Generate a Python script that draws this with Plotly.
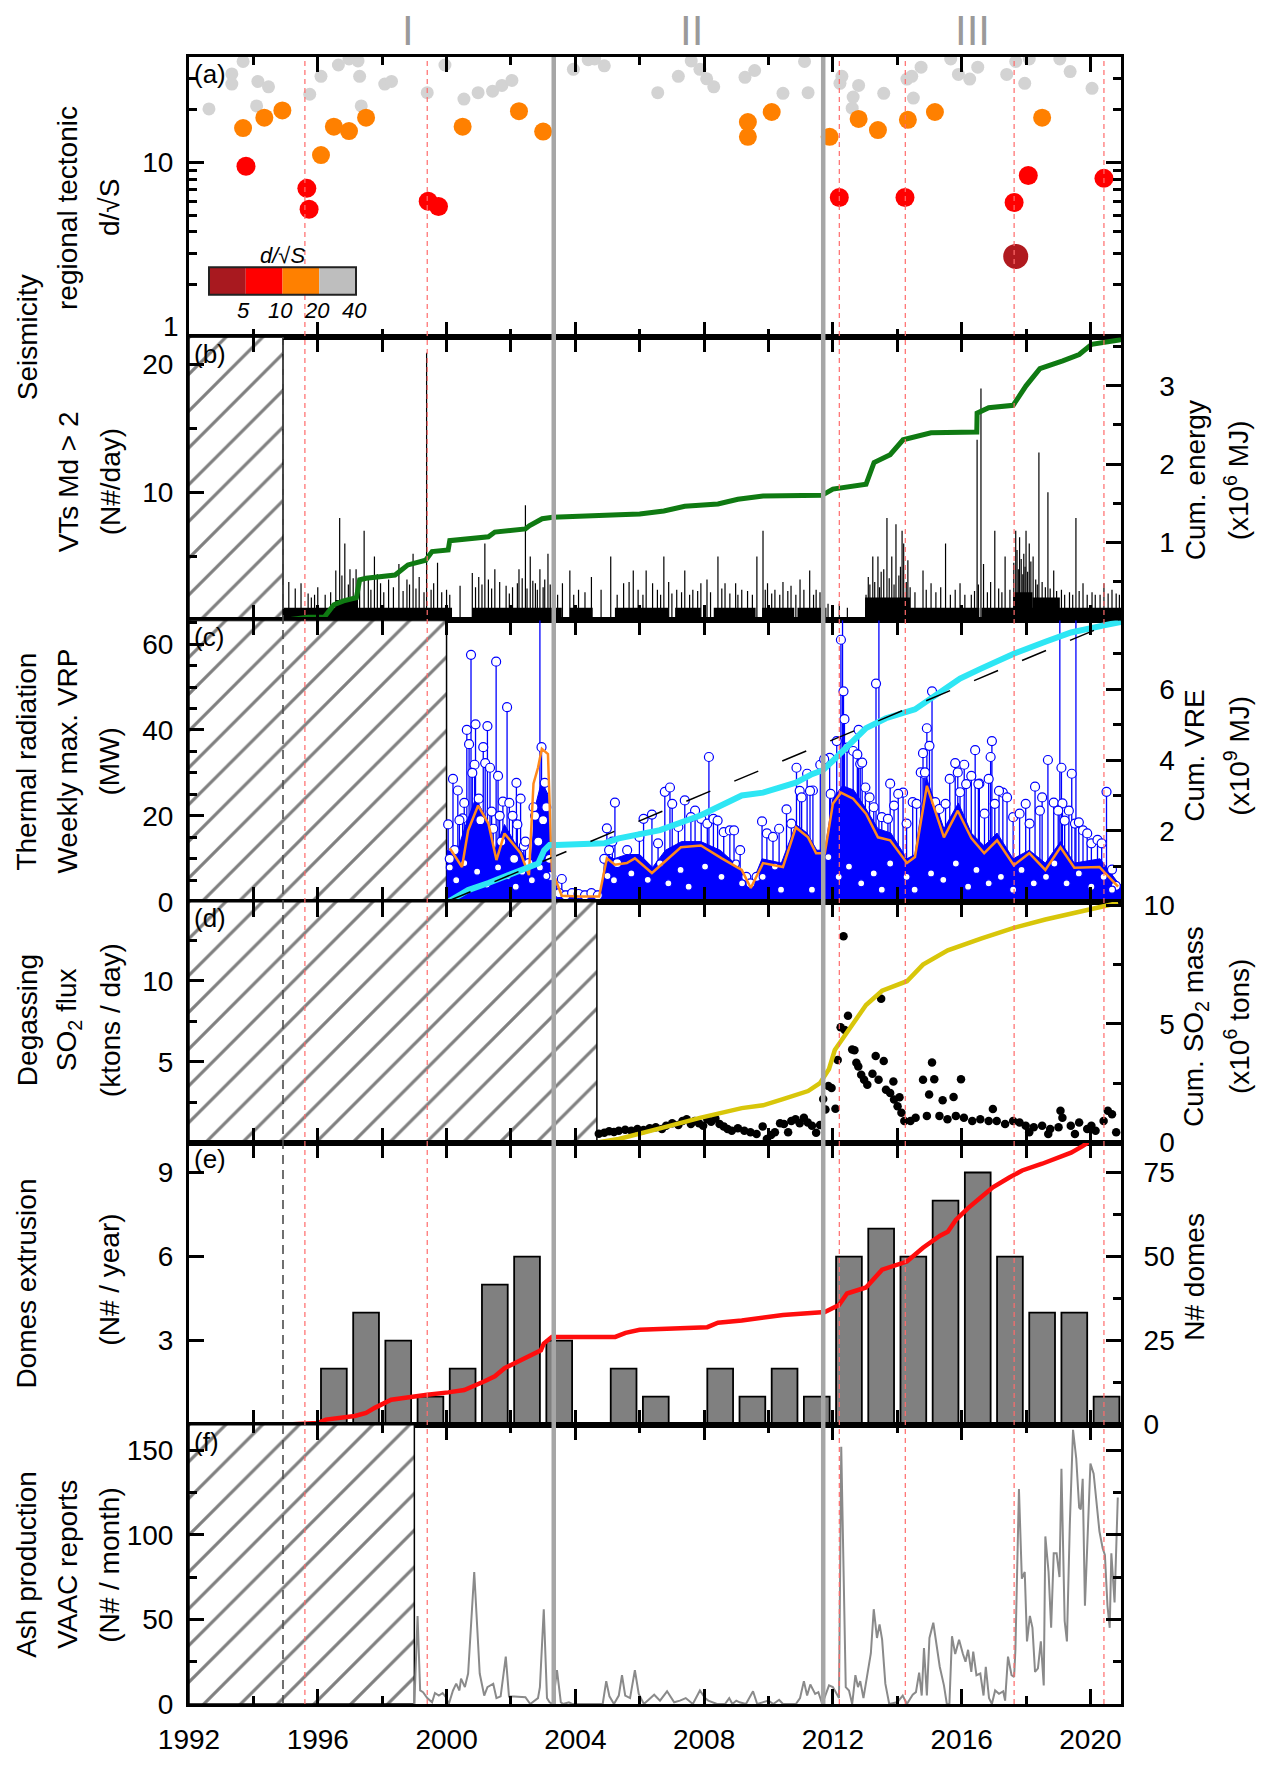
import plotly.graph_objects as go

FONT = "Liberation Sans, Arial, Helvetica, sans-serif"
X_RANGE = [1992.0, 2020.95]

# Phase boundaries (start of phase I, then grey separators) and phase names
phase_bounds = [1994.92, 2003.33, 2011.70, 2020.95]
phase_names = ["I", "II", "III"]
phase_label_year = [1998.8, 2007.6, 2016.35]
# Eruptive events (thin red dashed lines)
event_years = [1995.60, 1999.40, 2012.20, 2014.25, 2017.63, 2020.42]
# Start of each monitoring record (hatched before)
vt_start, vrp_start, so2_start, vaac_start = 1994.92, 2000.0, 2004.67, 1999.0

# ---------------- (a) regional tectonic earthquakes: d/sqrt(S)
tect_year = [1992.62, 1993.33, 1993.33, 1993.68, 1994.14, 1994.47, 1994.10, 1995.75, 1996.10,
             1996.64, 1996.97, 1997.25, 1997.30, 1997.35, 1998.08, 1998.29, 1999.40, 1999.95,
             2000.54, 2000.98, 2001.43, 2001.72, 2002.03, 2003.94, 2004.40, 2004.60, 2004.90,
             2006.56, 2007.20, 2007.60, 2007.87, 2008.08, 2008.30, 2009.27, 2009.57, 2010.45,
             2011.12, 2011.23, 2012.28, 2012.22, 2012.80, 2012.63, 2012.60, 2013.58, 2014.30,
             2014.45, 2014.74, 2014.50, 2015.66, 2015.90, 2016.25, 2016.50, 2017.40, 2017.68,
             2017.96, 2018.10, 2019.05, 2019.37, 2020.05,
             1993.68, 1994.34, 1994.90, 1996.10, 1996.50, 1996.97, 1997.50, 2000.50, 2002.25,
             2003.00, 2009.36, 2009.36, 2010.10, 2011.90, 2012.80, 2013.40, 2014.33, 2015.17,
             2018.50,
             1993.77, 1995.66, 1995.73, 1999.43, 1999.75, 2012.20, 2014.24, 2017.63, 2018.07,
             2020.42,
             2017.68]
tect_ratio = [20.2, 32.0, 28.0, 37.7, 29.0, 27.0, 21.0, 24.5, 31.0,
              36.0, 39.0, 38.0, 31.0, 21.0, 28.0, 29.0, 25.0, 36.0,
              23.0, 25.0, 25.5, 27.5, 29.4, 34.0, 38.6, 39.0, 35.6,
              25.0, 31.0, 38.0, 34.0, 30.0, 27.0, 30.6, 33.5, 24.8,
              37.7, 25.0, 31.0, 28.3, 27.5, 23.6, 20.4, 24.8, 29.9,
              31.0, 35.0, 23.3, 39.0, 31.8, 29.9, 35.0, 31.8, 37.7,
              28.3, 39.0, 39.0, 33.0, 26.5,
              15.7, 18.0, 19.8, 11.0, 16.0, 15.1, 18.0, 16.0, 19.6,
              15.0, 17.0, 14.0, 19.4, 14.0, 17.7, 15.3, 17.5, 19.4,
              18.0,
              9.5, 7.1, 5.4, 6.0, 5.6, 6.3, 6.3, 5.9, 8.4,
              8.1,
              2.9]
ratio_edges = [0, 5, 10, 20, 40]
ratio_colors = ["#b01a1f", "#ff0000", "#ff8000", "#d3d3d3"]
ratio_sizes = [25, 19, 18, 13]

# ---------------- (b) VT seismicity Md > 2 (events/day) and cumulative energy
vt_band_start = [1994.92, 2000.79, 2003.83, 2005.23, 2007.10, 2008.30, 2009.80, 2010.90, 2013.00,
                 2014.35, 2016.62, 1996.55, 2013.00, 2017.60, 2018.20]
vt_band_end = [2000.17, 2003.58, 2004.54, 2006.90, 2007.90, 2009.60, 2010.80, 2011.80, 2014.25,
               2016.55, 2020.95, 1997.25, 2014.40, 2018.20, 2019.05]
vt_band_level = [1, 1, 1, 1, 1, 1, 1, 1, 1, 1, 1, 1.6, 1.8, 2.2, 1.8]
vt_spike_year = [1995.10, 1995.48, 1995.70, 1995.90, 1996.23, 1996.56, 1996.68, 1996.84, 1997.00,
                 1997.19, 1997.44, 1997.57, 1997.76, 1997.95, 1998.20, 1998.52, 1998.77, 1998.96,
                 1999.15, 1999.38, 1999.52, 1999.72, 2000.00, 2000.42, 2000.80, 2001.00, 2001.19,
                 2001.30, 2001.50, 2001.85, 2002.20, 2002.25, 2002.45, 2002.60, 2002.76, 2002.90,
                 2003.05, 2003.15, 2003.60, 2003.83, 2004.10, 2004.50, 2004.80, 2005.10, 2005.50,
                 2005.67, 2005.80, 2006.20, 2006.40, 2006.75, 2006.90, 2007.15, 2007.40, 2007.65,
                 2007.90, 2008.09, 2008.43, 2008.65, 2008.98, 2009.17, 2009.64, 2009.83, 2009.97,
                 2010.20, 2010.45, 2010.70, 2010.98, 2011.28, 2011.48, 2011.85, 2012.20, 2012.45,
                 2013.03, 2013.24, 2013.40, 2013.50, 2013.68, 2013.83, 2013.96, 2014.15, 2014.20,
                 2014.33, 2014.80, 2015.05, 2015.50, 2015.95, 2016.30, 2016.48, 2016.60, 2016.68,
                 2017.03, 2017.35, 2017.68, 2017.80, 2017.93, 2018.00, 2018.10, 2018.22, 2018.40,
                 2018.68, 2018.86, 2019.10, 2019.55, 2019.77, 2020.15, 2020.42, 2020.67, 2020.80]
vt_spike_count = [3.0, 2.9, 2.1, 2.0, 2.0, 3.9, 8.0, 6.0, 4.0,
                  4.0, 7.0, 3.4, 5.0, 2.9, 3.2, 4.4, 3.2, 5.2,
                  3.4, 20.9, 2.4, 4.5, 2.4, 2.7, 3.7, 3.4, 6.0,
                  3.2, 4.0, 2.7, 2.9, 4.0, 9.0, 5.0, 2.9, 4.0,
                  3.2, 5.2, 2.9, 3.9, 2.4, 3.4, 2.4, 5.0, 2.9,
                  3.0, 3.9, 3.9, 2.9, 5.0, 3.0, 2.4, 3.9, 2.4,
                  2.9, 3.2, 5.0, 2.9, 2.9, 2.4, 5.0, 7.0, 2.9,
                  2.4, 3.0, 2.7, 3.2, 3.9, 2.4, 1.3, 1.3, 1.0,
                  2.0, 5.0, 5.0, 3.8, 8.0, 5.0, 7.5, 7.0, 6.0,
                  4.7, 3.9, 2.9, 6.0, 2.9, 2.0, 14.1, 18.1, 4.4,
                  7.0, 5.0, 7.0, 6.5, 5.2, 7.0, 6.0, 5.0, 13.1,
                  10.0, 3.9, 2.4, 8.0, 2.9, 2.0, 2.9, 2.4, 2.1]
# smaller daily counts that make up the dense low "grass"
vt_small_year = [1995.30, 1995.80, 1996.00, 1996.40, 1996.75, 1996.95, 1997.10, 1997.30, 1997.65,
                 1997.85, 1998.05, 1998.35, 1998.65, 1998.85, 1999.05, 1999.30, 1999.60, 1999.85,
                 2000.10, 2000.90, 2001.10, 2001.40, 2001.65, 2001.95, 2002.05, 2002.35, 2002.50,
                 2002.68, 2002.82, 2003.00, 2003.22, 2003.45, 2003.95, 2004.30, 2005.30, 2005.95,
                 2006.10, 2006.55, 2006.65, 2007.00, 2007.30, 2007.55, 2007.80, 2008.20, 2008.55,
                 2008.80, 2009.05, 2009.35, 2009.50, 2009.90, 2010.10, 2010.35, 2010.60, 2010.85,
                 2011.10, 2011.40, 2011.60, 2013.10, 2013.15, 2013.30, 2013.45, 2013.58, 2013.75,
                 2013.90, 2014.05, 2014.10, 2014.28, 2014.40, 2014.55, 2014.90, 2015.20, 2015.35,
                 2015.65, 2015.80, 2016.10, 2016.40, 2016.52, 2016.80, 2016.90, 2017.15, 2017.25,
                 2017.50, 2017.62, 2017.72, 2017.76, 2017.85, 2017.90, 2017.97, 2018.05, 2018.15,
                 2018.30, 2018.35, 2018.50, 2018.60, 2018.75, 2018.95, 2019.20, 2019.35, 2019.45,
                 2019.65, 2019.90, 2020.05, 2020.30, 2020.55, 2020.90]
vt_small_count = [2.5, 1.8, 2.6, 2.2, 3.5, 2.8, 3.3, 2.6, 2.4,
                  3.6, 2.2, 2.6, 2.3, 2.8, 2.5, 2.2, 2.9, 2.2,
                  2.0, 2.6, 2.8, 2.5, 3.0, 2.1, 2.6, 3.3, 2.5,
                  3.1, 2.4, 2.6, 2.8, 2.0, 2.0, 2.2, 2.0, 2.4,
                  2.0, 2.4, 2.0, 2.1, 2.2, 2.0, 2.3, 2.2, 2.5,
                  2.1, 2.0, 2.3, 2.0, 2.4, 2.1, 2.0, 2.3, 2.0,
                  2.4, 2.0, 2.2, 3.4, 2.8, 3.0, 2.6, 4.0, 3.3,
                  2.8, 3.5, 4.2, 3.0, 2.6, 2.2, 2.4, 2.2, 2.6,
                  2.0, 2.4, 2.0, 2.3, 2.8, 2.2, 3.0, 2.5, 2.2,
                  2.4, 4.5, 5.5, 4.0, 4.8, 3.6, 4.2, 3.8, 4.6,
                  3.2, 2.8, 3.0, 2.6, 2.5, 2.3, 2.0, 2.2, 2.0,
                  2.3, 2.0, 2.2, 2.0, 2.1, 2.0]
cum_energy_year = [1994.92, 1995.70, 1996.20, 1996.50, 1996.80, 1997.20, 1997.30, 1997.50, 1998.40,
                   1998.80, 1999.35, 1999.55, 2000.05, 2000.10, 2001.30, 2001.50, 2002.45, 2002.57,
                   2002.97, 2003.30, 2005.35, 2006.00, 2006.75, 2007.40, 2008.43, 2009.05, 2009.83,
                   2011.66, 2012.00, 2013.03, 2013.28, 2013.78, 2014.18, 2015.05, 2016.47, 2016.48,
                   2016.84, 2017.60, 2018.00, 2018.43, 2019.14, 2019.65, 2020.04, 2020.42, 2020.95]
cum_energy = [0.00, 0.04, 0.04, 0.20, 0.25, 0.29, 0.52, 0.54, 0.58,
              0.71, 0.77, 0.88, 0.90, 1.02, 1.07, 1.13, 1.17, 1.21,
              1.30, 1.32, 1.35, 1.36, 1.40, 1.46, 1.49, 1.55, 1.59,
              1.60, 1.68, 1.74, 2.02, 2.12, 2.31, 2.40, 2.41, 2.65,
              2.72, 2.75, 3.00, 3.22, 3.32, 3.40, 3.53, 3.56, 3.59]

# ---------------- (c) weekly maximum VRP (MW) and cumulative VRE
vrp_peak_year = [2000.20, 2000.35, 2000.50, 2000.63, 2000.70, 2000.76, 2000.87, 2000.90, 2001.14,
                 2001.20, 2001.27, 2001.35, 2001.54, 2001.60, 2001.75, 2001.88, 2002.17, 2002.30,
                 2002.90, 2002.95, 2003.05, 2003.58, 2004.98, 2005.23, 2006.38, 2006.78, 2006.94,
                 2007.40, 2007.72, 2008.15, 2009.80, 2010.56, 2010.87, 2011.20, 2011.38, 2011.90,
                 2012.12, 2012.25, 2012.30, 2012.33, 2012.36, 2012.80, 2012.85, 2013.34, 2013.43,
                 2013.78, 2014.18, 2014.80, 2014.83, 2014.92, 2015.00, 2015.08, 2015.80, 2016.08,
                 2016.42, 2016.55, 2016.90, 2016.94, 2017.28, 2018.28, 2018.68, 2018.86, 2019.05,
                 2019.10, 2019.13, 2019.42, 2019.55, 2020.50]
vrp_peak = [28.6, 25.9, 19.4, 40.0, 36.7, 57.5, 31.9, 41.3, 36.0,
            32.3, 40.9, 31.2, 55.9, 29.3, 23.3, 45.3, 27.7, 24.0,
            70.0, 36.0, 27.7, 5.3, 17.1, 23.1, 20.3, 25.6, 26.6,
            23.6, 21.2, 33.7, 18.7, 21.5, 31.2, 29.8, 25.9, 33.5,
            37.4, 61.0, 70.0, 49.0, 42.5, 40.0, 32.1, 50.8, 70.0,
            27.5, 25.4, 34.6, 29.8, 40.4, 36.3, 49.0, 32.3, 31.9,
            35.3, 27.5, 33.7, 37.4, 25.4, 26.8, 33.0, 23.1, 70.0,
            31.2, 22.9, 29.8, 70.0, 25.6]
vrp_mid_year = [2000.05, 2000.10, 2000.25, 2000.40, 2000.55, 2000.80, 2001.00, 2001.05, 2001.40,
                2001.45, 2001.65, 2001.70, 2001.95, 2002.05, 2002.10, 2002.20, 2002.40, 2002.45,
                2002.55, 2002.70, 2002.75, 2002.85, 2003.00, 2003.10, 2003.20, 2003.25, 2003.50,
                2003.70, 2003.90, 2004.10, 2004.30, 2004.50, 2004.70, 2004.90, 2005.05, 2005.15,
                2005.30, 2005.61, 2005.99, 2006.12, 2006.57, 2007.01, 2007.20, 2007.59, 2007.91,
                2008.10, 2008.29, 2008.42, 2008.61, 2008.80, 2008.93, 2009.12, 2009.31, 2009.44,
                2009.63, 2009.95, 2010.14, 2010.33, 2010.71, 2010.97, 2011.03, 2011.29, 2011.61,
                2011.73, 2011.93, 2012.44, 2012.63, 2012.76, 2012.91, 2013.01, 2013.14, 2013.27,
                2013.52, 2013.71, 2013.90, 2014.03, 2014.29, 2014.48, 2014.60, 2014.73, 2014.86,
                2015.18, 2015.31, 2015.50, 2015.63, 2015.88, 2015.95, 2016.14, 2016.30, 2016.52,
                2016.71, 2016.84, 2017.03, 2017.16, 2017.41, 2017.60, 2017.80, 2017.99, 2018.11,
                2018.43, 2018.50, 2019.00, 2019.20, 2019.33, 2019.52, 2019.64, 2019.77, 2019.90,
                2020.03, 2020.22, 2020.35, 2020.67, 2020.79]
vrp_mid = [18.0, 10.0, 12.0, 19.0, 23.0, 30.0, 24.0, 19.0, 21.0,
           17.0, 20.0, 14.0, 23.0, 20.0, 10.0, 18.0, 13.0, 14.0,
           9.0, 22.0, 20.0, 14.0, 19.0, 22.0, 10.0, 6.0, 2.0,
           1.5, 2.0, 1.8, 1.5, 2.0, 1.5, 10.0, 12.0, 14.0,
           9.0, 12.0, 15.1, 19.3, 13.6, 22.8, 17.4, 19.7, 19.3,
           18.2, 19.3, 18.9, 16.2, 16.6, 16.6, 12.0, 5.8, 4.3,
           5.8, 15.9, 15.1, 17.0, 18.2, 25.8, 24.3, 25.8, 31.9,
           33.2, 25.1, 35.9, 35.1, 34.3, 32.4, 26.6, 24.3, 22.0,
           19.7, 19.3, 22.4, 25.1, 18.2, 23.2, 22.8, 30.1, 30.1,
           23.2, 21.6, 22.8, 28.6, 30.1, 25.5, 27.4, 29.3, 27.4,
           20.5, 28.6, 22.8, 25.8, 24.3, 19.7, 20.5, 22.8, 18.2,
           21.2, 24.3, 21.2, 18.9, 21.2, 18.2, 18.5, 16.6, 15.9,
           13.6, 14.4, 13.6, 7.5, 3.7]
vrp_low_year = [2000.10, 2000.30, 2000.55, 2000.95, 2001.25, 2001.60, 2001.90, 2002.15, 2002.35,
                2002.65, 2002.90, 2003.10, 2005.00, 2005.20, 2005.74, 2006.25, 2006.63, 2006.89,
                2007.27, 2007.52, 2008.03, 2008.54, 2008.99, 2009.18, 2009.82, 2010.20, 2010.39,
                2011.35, 2011.86, 2012.18, 2012.50, 2012.88, 2013.27, 2013.52, 2013.78, 2014.29,
                2014.54, 2015.05, 2015.43, 2015.82, 2016.20, 2016.46, 2016.84, 2017.22, 2017.60,
                2017.86, 2018.24, 2018.62, 2018.88, 2019.26, 2019.64, 2020.03, 2020.41, 2020.67]
vrp_low = [8.0, 5.0, 9.0, 7.0, 4.0, 8.0, 6.0, 3.5, 7.0,
           5.0, 8.0, 6.0, 6.0, 5.0, 6.6, 5.1, 8.9, 4.3,
           7.4, 3.5, 8.2, 5.8, 8.9, 4.3, 5.8, 8.2, 2.8,
           2.8, 10.4, 5.8, 8.2, 4.3, 6.6, 2.8, 8.9, 5.8,
           2.8, 6.6, 5.1, 8.9, 3.5, 7.4, 4.3, 5.8, 2.8,
           7.4, 4.3, 5.8, 8.9, 4.3, 6.6, 3.5, 5.8, 2.8]
vrp_dense_year = [2000.00, 2000.30, 2000.60, 2000.90, 2001.20, 2001.50, 2001.80, 2002.10, 2002.40,
                  2002.60, 2002.75, 2002.95, 2003.15, 2003.30, 2003.45, 2004.80, 2004.95, 2005.20,
                  2005.60, 2006.00, 2006.40, 2006.80, 2007.30, 2007.90, 2008.50, 2009.10, 2009.45,
                  2009.80, 2010.40, 2010.85, 2011.20, 2011.50, 2011.75, 2012.00, 2012.30, 2012.65,
                  2013.00, 2013.40, 2013.80, 2014.30, 2014.55, 2014.90, 2015.45, 2015.90, 2016.30,
                  2016.70, 2017.10, 2017.60, 2018.10, 2018.60, 2019.07, 2019.50, 2020.30, 2020.90,
                  2020.95]
vrp_dense = [12, 11, 18, 24, 20, 12, 18, 14, 11,
             7, 22, 28, 25, 7, 2.5, 2.5, 11, 10,
             11, 11, 8, 12, 14, 14, 12, 8, 3.5,
             10, 9, 18, 16, 12, 12, 24, 27, 26,
             22, 17, 16, 10, 11, 29, 17, 23, 16,
             13, 16, 10, 12, 9, 14, 9, 10, 4,
             4]
vrp_smooth_year = [2000.10, 2000.48, 2000.67, 2000.98, 2001.30, 2001.55, 2001.80, 2002.06, 2002.30,
                   2002.56, 2002.70, 2002.84, 2002.96, 2003.15, 2003.27, 2003.58, 2004.10, 2004.74,
                   2004.98, 2005.23, 2005.60, 2005.85, 2006.38, 2007.28, 2007.90, 2008.55, 2009.17,
                   2009.45, 2009.83, 2010.45, 2010.85, 2011.23, 2011.48, 2011.75, 2012.00, 2012.25,
                   2012.63, 2013.03, 2013.40, 2013.78, 2014.30, 2014.55, 2014.92, 2015.45, 2015.88,
                   2016.30, 2016.70, 2017.10, 2017.62, 2018.10, 2018.60, 2019.07, 2019.50, 2020.28,
                   2020.86]
vrp_smooth = [12.5, 8.1, 16.6, 22.4, 18.2, 9.7, 15.9, 13.6, 11.3,
              6.2, 27.5, 31.2, 35.6, 34.4, 7.4, 1.4, 1.2, 1.2,
              10.1, 8.6, 9.0, 10.1, 6.7, 12.7, 13.1, 10.1, 7.4,
              3.2, 9.0, 8.1, 17.3, 15.0, 11.3, 11.3, 22.8, 25.4,
              24.0, 20.5, 15.0, 14.3, 9.0, 10.4, 27.0, 15.0, 21.2,
              14.8, 11.3, 14.3, 8.5, 11.3, 7.4, 12.7, 7.9, 8.1,
              3.5]
cum_vre_year = [2000.05, 2000.67, 2001.30, 2001.95, 2002.57, 2002.85, 2003.03, 2003.20, 2003.40,
                2004.90, 2005.35, 2006.63, 2007.90, 2009.17, 2009.83, 2010.85, 2011.35, 2011.70,
                2012.00, 2012.50, 2013.03, 2013.65, 2014.55, 2015.05, 2015.95, 2016.60, 2017.62,
                2018.60, 2019.40, 2020.42, 2020.95]
cum_vre = [0.00, 0.33, 0.53, 0.76, 0.98, 1.08, 1.45, 1.60, 1.60,
           1.65, 1.79, 2.02, 2.44, 3.00, 3.08, 3.36, 3.60, 3.72,
           3.98, 4.45, 4.90, 5.18, 5.43, 5.74, 6.30, 6.58, 7.00,
           7.34, 7.60, 7.80, 7.90]
vre_trend_year = [2000.0, 2020.95]
vre_trend = [0.0, 7.98]

# ---------------- (d) SO2 flux (ktons/day) and cumulative SO2 mass
so2_year = [2004.73, 2004.90, 2005.05, 2005.20, 2005.35, 2005.55, 2005.74, 2005.93, 2006.12,
            2006.31, 2006.50, 2006.69, 2006.82, 2007.01, 2007.20, 2007.33, 2007.46, 2007.59,
            2007.71, 2007.84, 2007.97, 2008.10, 2008.22, 2008.35, 2008.48, 2008.61, 2008.73,
            2008.86, 2009.05, 2009.25, 2009.44, 2009.63, 2009.82, 2009.95, 2010.08, 2010.20,
            2010.36, 2010.48, 2010.61, 2010.71, 2010.84, 2010.97, 2011.10, 2011.22, 2011.35,
            2011.48, 2011.60, 2011.70, 2011.77, 2011.86, 2011.96, 2012.08, 2012.15, 2012.24,
            2012.33, 2012.37, 2012.47, 2012.60, 2012.67, 2012.73, 2012.79, 2012.88, 2012.97,
            2013.07, 2013.23, 2013.33, 2013.42, 2013.50, 2013.58, 2013.65, 2013.78, 2013.88,
            2013.90, 2014.01, 2014.07, 2014.13, 2014.22, 2014.41, 2014.57, 2014.80, 2014.92,
            2014.99, 2015.08, 2015.15, 2015.41, 2015.75, 2015.98, 2015.31, 2015.56, 2015.82,
            2016.07, 2016.33, 2016.58, 2016.84, 2016.97, 2017.09, 2017.35, 2017.60, 2017.80,
            2017.99, 2018.10, 2018.24, 2018.50, 2018.69, 2018.75, 2019.01, 2019.07, 2019.13,
            2019.39, 2019.52, 2019.65, 2019.90, 2020.03, 2020.16, 2020.41, 2020.54, 2020.67,
            2020.80]
so2_flux = [0.55, 0.60, 0.70, 0.65, 0.73, 0.79, 0.73, 0.84, 0.77,
            0.88, 0.94, 0.84, 1.04, 1.20, 1.08, 1.34, 1.44, 1.14,
            1.34, 1.20, 1.04, 1.44, 1.28, 1.48, 1.14, 1.00, 0.84,
            0.73, 0.88, 0.73, 0.63, 0.53, 1.00, 0.22, 0.47, 0.63,
            1.20, 1.14, 0.63, 1.34, 1.44, 1.20, 1.54, 1.24, 1.04,
            0.60, 1.08, 2.70, 2.05, 3.50, 3.37, 2.09, 5.10, 7.14,
            12.76, 6.97, 7.85, 5.75, 5.71, 4.94, 4.70, 4.19, 3.88,
            3.58, 4.25, 5.35, 3.88, 8.90, 5.04, 3.27, 3.07, 3.78,
            2.66, 2.25, 2.80, 1.85, 1.34, 1.34, 1.54, 3.88, 1.65,
            2.97, 4.96, 3.92, 2.62, 2.82, 3.92, 1.65, 1.44, 1.65,
            1.54, 1.34, 1.44, 1.34, 2.07, 1.34, 1.14, 1.34, 1.24,
            1.04, 0.63, 0.94, 1.04, 0.53, 0.84, 0.94, 1.96, 1.54,
            1.04, 0.53, 1.24, 0.84, 1.04, 0.73, 1.34, 1.96, 1.75,
            0.63]
cum_so2_year = [2004.67, 2005.35, 2006.63, 2007.90, 2009.17, 2009.83, 2010.45, 2011.23, 2011.60,
                2011.88, 2012.06, 2012.50, 2013.03, 2013.53, 2014.30, 2014.80, 2015.57, 2016.60,
                2017.62, 2018.60, 2019.75, 2020.42, 2020.86]
cum_so2 = [0.00, 0.15, 0.60, 1.05, 1.45, 1.57, 1.83, 2.17, 2.50,
           3.10, 3.90, 4.75, 5.80, 6.40, 6.80, 7.50, 8.10, 8.60,
           9.05, 9.40, 9.75, 10.00, 10.10]

# ---------------- (e) lava domes extruded per year and cumulative number
dome_year = list(range(1992, 2021))
dome_count = [0, 0, 0, 0, 2, 4, 3, 1, 2, 5, 6, 3, 0, 2, 1, 0, 2, 1, 2, 1,
              6, 7, 6, 8, 9, 6, 4, 4, 1]
cum_dome_year = [1994.92, 1996.00, 1996.25, 1997.15, 1997.50, 1997.77, 1998.28, 1998.80, 1999.40,
                 2000.05, 2000.55, 2001.18, 2001.50, 2001.80, 2002.30, 2002.70, 2002.93, 2003.02,
                 2003.27, 2005.24, 2005.56, 2006.00, 2008.10, 2008.43, 2009.17, 2010.45, 2011.75,
                 2012.19, 2012.44, 2013.03, 2013.53, 2014.30, 2014.80, 2015.33, 2015.57, 2015.82,
                 2016.20, 2016.60, 2016.97, 2017.48, 2017.88, 2018.50, 2018.90, 2019.40, 2019.77,
                 2020.10]
cum_dome = [0.0, 0.5, 1.5, 2.6, 3.5, 5.0, 7.4, 8.2, 8.9,
            9.6, 10.3, 12.9, 14.4, 16.8, 19.3, 21.2, 22.1, 24.1,
            26.1, 26.1, 27.3, 28.2, 29.0, 30.3, 31.0, 32.6, 33.5,
            35.6, 39.0, 40.8, 46.1, 48.5, 52.6, 56.2, 57.4, 60.9,
            64.4, 67.6, 70.6, 73.5, 75.6, 77.6, 79.1, 80.9, 82.9,
            85.0]

# ---------------- (f) VAAC ash reports per month
vaac_year = [1999.00, 1999.10, 1999.18, 1999.27, 1999.40, 1999.55, 1999.64, 1999.76, 1999.88,
             1999.98, 2000.07, 2000.20, 2000.30, 2000.40, 2000.45, 2000.57, 2000.67, 2000.86,
             2001.03, 2001.17, 2001.27, 2001.37, 2001.45, 2001.55, 2001.68, 2001.84, 2001.94,
             2002.10, 2002.30, 2002.45, 2002.60, 2002.84, 2002.90, 2003.02, 2003.12, 2003.20,
             2003.30, 2003.43, 2003.55, 2003.62, 2003.80, 2003.90, 2004.85, 2004.96, 2005.06,
             2005.20, 2005.35, 2005.45, 2005.55, 2005.70, 2005.85, 2005.97, 2006.13, 2006.45,
             2006.63, 2006.85, 2007.07, 2007.25, 2007.43, 2007.65, 2007.87, 2008.03, 2008.13,
             2008.40, 2008.65, 2008.78, 2008.88, 2009.00, 2009.10, 2009.30, 2009.52, 2009.65,
             2010.00, 2010.15, 2010.33, 2010.45, 2010.85, 2010.98, 2011.10, 2011.20, 2011.30,
             2011.45, 2011.55, 2011.67, 2011.88, 2012.00, 2012.19, 2012.26, 2012.40, 2012.50,
             2012.60, 2012.70, 2012.78, 2012.85, 2012.95, 2013.07, 2013.18, 2013.27, 2013.37,
             2013.45, 2013.53, 2013.63, 2013.75, 2014.00, 2014.17, 2014.30, 2014.48, 2014.58,
             2014.68, 2014.76, 2014.83, 2014.92, 2015.00, 2015.12, 2015.20, 2015.32, 2015.45,
             2015.54, 2015.62, 2015.70, 2015.80, 2015.92, 2016.04, 2016.12, 2016.20, 2016.30,
             2016.36, 2016.46, 2016.58, 2016.68, 2016.75, 2016.85, 2016.94, 2017.04, 2017.16,
             2017.29, 2017.35, 2017.44, 2017.55, 2017.63, 2017.67, 2017.78, 2017.87, 2017.96,
             2018.03, 2018.12, 2018.20, 2018.28, 2018.37, 2018.46, 2018.55, 2018.60, 2018.70,
             2018.78, 2018.86, 2018.95, 2019.04, 2019.10, 2019.20, 2019.27, 2019.36, 2019.46,
             2019.56, 2019.65, 2019.70, 2019.76, 2019.83, 2019.92, 2020.00, 2020.10, 2020.20,
             2020.28, 2020.38, 2020.45, 2020.53, 2020.60, 2020.65, 2020.75, 2020.85]
vaac_reports = [0, 52, 8, 7, 3.5, 1, 6.5, 5, 6.5,
                4, 0, 8, 12, 8, 15, 10, 18, 78,
                18, 5, 10, 11, 12, 3.5, 4.5, 28, 4.5,
                4.5, 4, 4, 0, 3.5, 10, 56, 3.5, 1,
                0, 20, 1, 0, 1, 0, 0, 13.5, 4.5,
                0, 5, 17, 5, 3.5, 20, 6, 0, 5.5,
                2, 7.5, 1, 2, 3.5, 0, 8, 3.5, 2,
                0, 0, 3.5, 0, 2, 1, 0, 7.5, 0,
                2, 0, 2.5, 0, 0, 3.5, 13.5, 5, 11.5,
                6, 7, 0, 11, 10, 3.5, 152, 10, 8,
                0, 17, 10, 13.5, 3.5, 18, 30, 56, 39,
                47, 38, 12, 0, 1, 5, 0, 5.5, 7,
                18.5, 5, 33, 5, 39, 48, 38, 22, 11,
                0, 0, 40, 29.5, 38, 29.5, 25, 32, 19,
                31, 17, 18, 5, 22, 3.5, 0, 8, 6,
                7.5, 2, 28, 17, 16, 32, 127, 74, 78,
                37, 52, 45, 19, 21, 37, 11, 99, 78,
                45, 89, 89, 75, 139, 49, 37, 106, 162,
                145, 116, 115, 133, 58, 102, 142, 136, 115,
                102, 92, 88, 58, 45, 89, 60, 122]

# ======================================================================
fig = go.Figure()


def stem_xy(xs, ys):
    sx, sy = [], []
    for x, y in zip(xs, ys):
        sx += [x, x, None]
        sy += [0, y, None]
    return sx, sy


def hatch_bar(x_end, top, xa, ya):
    return go.Bar(x=[(X_RANGE[0] + x_end) / 2], y=[top], width=[x_end - X_RANGE[0]],
                  xaxis=xa, yaxis=ya, showlegend=False, hoverinfo="skip",
                  marker=dict(color="white", line=dict(color="black", width=1.5),
                              pattern=dict(shape="/", fgcolor="black", bgcolor="white",
                                           size=26, solidity=0.12)))


# (a) tectonic earthquakes coloured by d/sqrt(S) class (grey drawn first)
for k in [3, 2, 1, 0]:
    sel = [(t, r) for t, r in zip(tect_year, tect_ratio) if ratio_edges[k] <= r < ratio_edges[k + 1]]
    fig.add_trace(go.Scatter(x=[s[0] for s in sel], y=[s[1] for s in sel], mode="markers",
                             xaxis="x", yaxis="y", showlegend=False,
                             marker=dict(color=ratio_colors[k], size=ratio_sizes[k], line=dict(width=0))))

# (b) VT seismicity
R_B, R_BR = 22.1, 3.62
fig.add_trace(hatch_bar(vt_start, R_B, "x2", "y2"))
fig.add_trace(go.Bar(x=[(s + e) / 2 for s, e in zip(vt_band_start, vt_band_end)], y=vt_band_level,
                     width=[e - s for s, e in zip(vt_band_start, vt_band_end)],
                     xaxis="x2", yaxis="y2", showlegend=False,
                     marker=dict(color="black", line=dict(width=0))))
sx, sy = stem_xy(vt_spike_year + vt_small_year, vt_spike_count + vt_small_count)
fig.add_trace(go.Scatter(x=sx, y=sy, mode="lines", xaxis="x2", yaxis="y2", showlegend=False,
                         line=dict(color="black", width=1.2)))
fig.add_trace(go.Scatter(x=cum_energy_year, y=cum_energy, mode="lines", xaxis="x2", yaxis="y3",
                         showlegend=False, line=dict(color="#0f7a12", width=5)))

# (c) thermal radiation
R_C, R_CR = 65.5, 7.94
fig.add_trace(hatch_bar(vrp_start, R_C, "x3", "y4"))
fig.add_trace(go.Scatter(x=vrp_dense_year, y=vrp_dense, mode="lines", fill="tozeroy",
                         fillcolor="#0000ff", xaxis="x3", yaxis="y4", showlegend=False,
                         line=dict(color="#0000ff", width=1)))
all_vrp_x = vrp_peak_year + vrp_mid_year + vrp_low_year
all_vrp_y = vrp_peak + vrp_mid + vrp_low
sx, sy = stem_xy(all_vrp_x, all_vrp_y)
fig.add_trace(go.Scatter(x=sx, y=sy, mode="lines", xaxis="x3", yaxis="y4", showlegend=False,
                         line=dict(color="#0000ff", width=1.3)))
fig.add_trace(go.Scatter(x=vrp_peak_year + vrp_mid_year, y=vrp_peak + vrp_mid, mode="markers",
                         xaxis="x3", yaxis="y4", showlegend=False,
                         marker=dict(symbol="circle", size=9, color="white",
                                     line=dict(color="#0000ff", width=1.2))))
fig.add_trace(go.Scatter(x=vrp_low_year, y=vrp_low, mode="markers",
                         xaxis="x3", yaxis="y4", showlegend=False,
                         marker=dict(symbol="circle", size=7, color="white",
                                     line=dict(color="#0000ff", width=1.2))))
fig.add_trace(go.Scatter(x=vrp_smooth_year, y=vrp_smooth, mode="lines", xaxis="x3", yaxis="y4",
                         showlegend=False, line=dict(color="#ff8a1c", width=2.5)))
fig.add_trace(go.Scatter(x=cum_vre_year, y=cum_vre, mode="lines", xaxis="x3", yaxis="y5",
                         showlegend=False, line=dict(color="#2ee6f4", width=6)))
fig.add_trace(go.Scatter(x=vre_trend_year, y=vre_trend, mode="lines", xaxis="x3", yaxis="y5",
                         showlegend=False, line=dict(color="black", width=1.5, dash="26px,26px")))

# (d) SO2 degassing
R_D, R_DR = 14.9, 10.15
fig.add_trace(hatch_bar(so2_start, R_D, "x4", "y6"))
fig.add_trace(go.Scatter(x=so2_year, y=so2_flux, mode="markers", xaxis="x4", yaxis="y6",
                         showlegend=False, marker=dict(color="black", size=8.5)))
fig.add_trace(go.Scatter(x=cum_so2_year, y=cum_so2, mode="lines", xaxis="x4", yaxis="y7",
                         showlegend=False, line=dict(color="#d8c60a", width=4.5)))

# (e) dome extrusion
R_E, R_ER = 10.07, 83.9
fig.add_trace(go.Bar(x=[y + 0.5 for y in dome_year], y=dome_count, width=0.8,
                     xaxis="x5", yaxis="y8", showlegend=False,
                     marker=dict(color="#808080", line=dict(color="black", width=1.8))))
fig.add_trace(go.Scatter(x=cum_dome_year, y=cum_dome, mode="lines", xaxis="x5", yaxis="y9",
                         showlegend=False, line=dict(color="#ff0d0d", width=4.5)))

# (f) VAAC ash reports
R_F = 165
fig.add_trace(hatch_bar(vaac_start, R_F, "x6", "y10"))
fig.add_trace(go.Scatter(x=vaac_year, y=vaac_reports, mode="lines", xaxis="x6", yaxis="y10",
                         showlegend=False, line=dict(color="#8a8a8a", width=2)))

# ======================================================================
TICKFONT = dict(family=FONT, size=28, color="black")
base = dict(showline=True, linecolor="black", linewidth=3, showgrid=False, zeroline=False,
            ticks="inside", tickcolor="black", tickwidth=2.5, ticklen=15, tickfont=TICKFONT)
minor_style = dict(ticks="inside", ticklen=8, tickwidth=2.5, tickcolor="black")

domains = {"a": [0.8298, 1.0], "b": [0.6579, 0.8298], "c": [0.4871, 0.6579],
           "d": [0.3409, 0.4871], "e": [0.1696, 0.3409], "f": [0.0, 0.1696]}

layout = dict(width=1265, height=1767, margin=dict(l=189, r=144, t=57, b=41),
              paper_bgcolor="white", plot_bgcolor="white", barmode="overlay",
              showlegend=False, font=dict(family=FONT, size=28, color="black"))

x_names = ["xaxis", "xaxis2", "xaxis3", "xaxis4", "xaxis5", "xaxis6"]
x_anchor = ["y", "y2", "y4", "y6", "y8", "y10"]
for i, (nm, anc) in enumerate(zip(x_names, x_anchor)):
    layout[nm] = dict(base, domain=[0, 1], anchor=anc, range=X_RANGE, tickmode="linear",
                      tick0=1992, dtick=4, mirror="allticks",
                      minor=dict(minor_style, tick0=1992, dtick=2),
                      showticklabels=(i == 5), ticklabelstandoff=8)

L_STANDOFF, R_STANDOFF = 7, 14
FS = "\u2007"
# the "1" of the log axis is written separately (raised) so it clears panel (b)'s "20"
layout["yaxis"] = dict(base, domain=domains["a"], anchor="x", type="log", range=[0, 1.60206],
                       tickvals=[1, 10], ticktext=["", "10"], mirror="allticks",
                       minor=dict(minor_style, tickvals=[2, 3, 4, 5, 6, 7, 8, 9, 20, 30]),
                       ticklabelstandoff=L_STANDOFF)
layout["yaxis2"] = dict(base, domain=domains["b"], anchor="x2", range=[0, R_B],
                        tickvals=[10, 20], minor=dict(minor_style, tickvals=[5, 15]),
                        ticklabelstandoff=L_STANDOFF)
layout["yaxis3"] = dict(base, overlaying="y2", side="right", anchor="x2", range=[0, R_BR],
                        tickvals=[1, 2, 3], ticktext=[FS + "1", FS + "2", FS + "3"],
                        minor=dict(minor_style, tickvals=[0.5, 1.5, 2.5, 3.5]),
                        ticklabelstandoff=R_STANDOFF)
layout["yaxis4"] = dict(base, domain=domains["c"], anchor="x3", range=[0, R_C],
                        tickvals=[0, 20, 40, 60],
                        minor=dict(minor_style, tickvals=[5, 10, 15, 25, 30, 35, 45, 50, 55, 65]),
                        ticklabelstandoff=L_STANDOFF)
layout["yaxis5"] = dict(base, overlaying="y4", side="right", anchor="x3", range=[0, R_CR],
                        tickvals=[2, 4, 6], ticktext=[FS + "2", FS + "4", FS + "6"],
                        minor=dict(minor_style, tickvals=[1, 3, 5, 7]),
                        ticklabelstandoff=R_STANDOFF)
layout["yaxis6"] = dict(base, domain=domains["d"], anchor="x4", range=[0, R_D],
                        tickvals=[5, 10], minor=dict(minor_style, tickvals=[2.5, 7.5, 12.5]),
                        ticklabelstandoff=L_STANDOFF)
layout["yaxis7"] = dict(base, overlaying="y6", side="right", anchor="x4", range=[0, R_DR],
                        tickvals=[0, 5, 10], ticktext=[FS + "0", FS + "5", "10"],
                        minor=dict(minor_style, tickvals=[2.5, 7.5]),
                        ticklabelstandoff=R_STANDOFF)
layout["yaxis8"] = dict(base, domain=domains["e"], anchor="x5", range=[0, R_E],
                        tickvals=[3, 6, 9], ticklabelstandoff=L_STANDOFF)
layout["yaxis9"] = dict(base, overlaying="y8", side="right", anchor="x5", range=[0, R_ER],
                        tickvals=[0, 25, 50, 75], minor=dict(minor_style, tickvals=[12.5, 37.5, 62.5]),
                        ticklabelstandoff=R_STANDOFF)
layout["yaxis10"] = dict(base, domain=domains["f"], anchor="x6", range=[0, R_F],
                         tickvals=[0, 50, 100, 150], mirror="allticks",
                         minor=dict(minor_style, tickvals=[25, 75, 125]),
                         ticklabelstandoff=L_STANDOFF)


def px_x(px):
    return (px - 189) / 932


def px_y(py):
    return (1726 - py) / 1669


# ---------------- shapes: phase lines, event lines, d/sqrt(S) colour key
shapes = []
shapes.append(dict(type="line", xref="x", yref="paper", x0=phase_bounds[0], x1=phase_bounds[0],
                   y0=0, y1=domains["b"][1], layer="above",
                   line=dict(color="#4d4d4d", width=1.6, dash="9px,6px")))
for yr in event_years:
    shapes.append(dict(type="line", xref="x", yref="paper", x0=yr, x1=yr, y0=0, y1=1,
                       layer="above", line=dict(color="#ff6b6b", width=1.2, dash="5px,4px")))
for yr in phase_bounds[1:3]:
    shapes.append(dict(type="line", xref="x", yref="paper", x0=yr, x1=yr, y0=0, y1=1,
                       layer="above", line=dict(color="#a6a6a6", width=4.5)))
key_x0, key_w, key_top, key_bot = 209, 36.75, 270, 298
key_colors = ["#a8191f", "#ff0000", "#ff8000", "#bebebe"]
for k, c in enumerate(key_colors):
    shapes.append(dict(type="rect", xref="paper", yref="paper",
                       x0=px_x(key_x0 + k * key_w), x1=px_x(key_x0 + (k + 1) * key_w),
                       y0=px_y(key_bot), y1=px_y(key_top), fillcolor=c, line=dict(width=0),
                       layer="above"))
shapes.append(dict(type="rect", xref="paper", yref="paper", x0=px_x(key_x0),
                   x1=px_x(key_x0 + 4 * key_w), y0=px_y(key_bot), y1=px_y(key_top),
                   line=dict(color="#222222", width=2), layer="above"))
layout["shapes"] = shapes

# ---------------- annotations
ann = []


def title(text, px, py, size=28):
    ann.append(dict(text=text, xref="paper", yref="paper", x=px_x(px), y=px_y(py),
                    xanchor="center", yanchor="middle", textangle=-90, showarrow=False,
                    font=dict(family=FONT, size=size, color="black")))


# left titles
title("Seismicity", 27, 341)
title("regional tectonic", 68, 210)
title("d/\u221aS", 110, 210)
title("VTs Md > 2", 68, 488)
title("(N#/day)", 110, 488)
title("Thermal radiation", 27, 771)
title("Weekly max. VRP", 68, 771)
title("(MW)", 110, 771)
title("Degassing", 27, 1033)
title("SO<sub>2</sub> flux", 68, 1033)
title("(ktons / day)", 110, 1033)
title("Domes extrusion", 27, 1300)
title("(N# / year)", 110, 1296)
title("Ash production", 27, 1585)
title("VAAC reports", 68, 1585)
title("(N# / month)", 110, 1585)
# right titles
title("Cum. energy", 1195, 486)
title("(x10<sup>6</sup> MJ)", 1237, 486)
title("Cum. VRE", 1195, 765)
title("(x10<sup>9</sup> MJ)", 1237, 765)
title("Cum. SO<sub>2</sub> mass", 1195, 1040)
title("(x10<sup>6</sup> tons)", 1237, 1040)
title("N# domes", 1195, 1293)

# raised "1" label of the log axis in panel (a)
ann.append(dict(text="1", xref="paper", yref="paper", x=px_x(181), y=px_y(330),
                xanchor="right", yanchor="middle", showarrow=False,
                font=dict(family=FONT, size=28, color="black")))

# panel letters
for letter, top in zip("abcdef", [57, 341, 628, 913, 1157, 1443]):
    ann.append(dict(text="(%s)" % letter, xref="paper", yref="paper", x=px_x(192), y=px_y(top + 17),
                    xanchor="left", yanchor="middle", showarrow=False,
                    font=dict(family=FONT, size=26, color="black")))

# phase names
for name, yr in zip(phase_names, phase_label_year):
    ann.append(dict(text=name, xref="x", yref="paper", x=yr, y=px_y(30),
                    xanchor="center", yanchor="middle", showarrow=False,
                    font=dict(family=FONT, size=42, color="#9a9a9a")))

# colour key labels
ann.append(dict(text="<i>d/\u221aS</i>", xref="paper", yref="paper", x=px_x(282), y=px_y(258),
                xanchor="center", yanchor="middle", showarrow=False,
                font=dict(family=FONT, size=22, color="black")))
for k, lab in enumerate(["5", "10", "20", "40"]):
    ann.append(dict(text="<i>%s</i>" % lab, xref="paper", yref="paper",
                    x=px_x(key_x0 + (k + 1) * key_w - 2), y=px_y(314),
                    xanchor="center", yanchor="middle", showarrow=False,
                    font=dict(family=FONT, size=22, color="black")))
layout["annotations"] = ann

fig.update_layout(layout)
fig.write_html("out.html")
